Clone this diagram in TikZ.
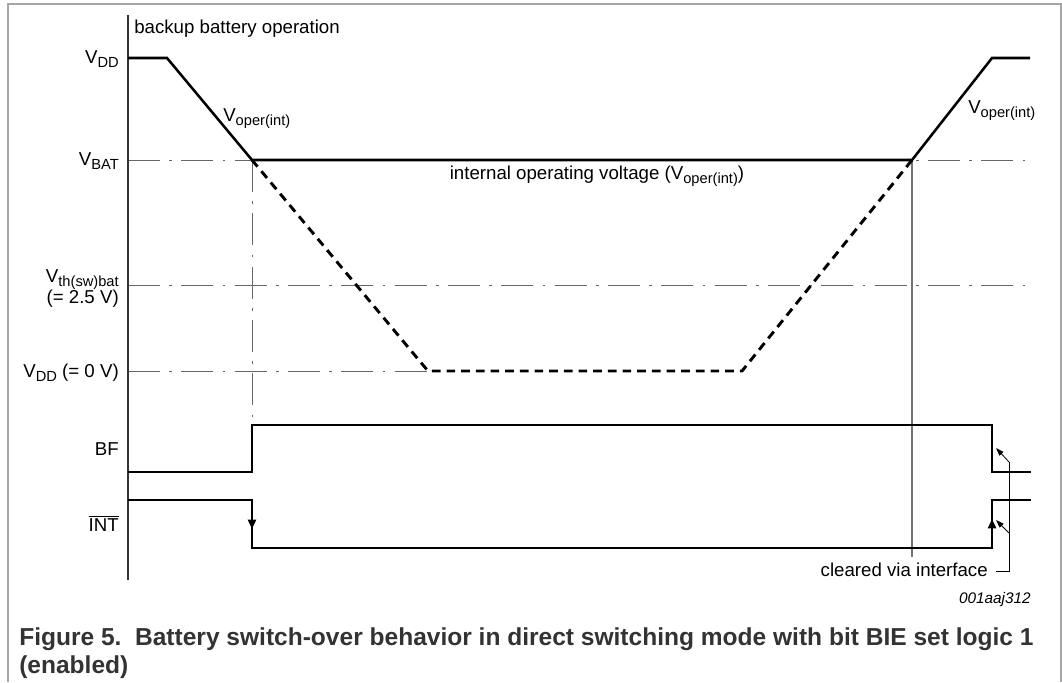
\documentclass[tikz,border=0pt]{standalone}
\usepackage{fontspec}
\setmainfont{Liberation Sans}
\usetikzlibrary{arrows.meta}

\newcommand{\lowsub}[1]{\raisebox{-3pt}{\fontsize{11}{13}\selectfont #1}}

\tikzset{
  lbl/.style={font=\fontsize{14}{17}\selectfont, inner sep=0pt},
  sig/.style={line width=1.9pt, line join=miter},
  dashdot/.style={black!60, line width=0.6pt, dash pattern=on 24pt off 7pt on 2pt off 7pt},
  marker/.style={black!55, line width=0.8pt},
  note/.style={line width=0.6pt},
}

\begin{document}
\begin{tikzpicture}[x=0.75pt,y=-0.75pt]
\useasboundingbox (0,0) rectangle (1062,682);
\draw[black!35, line width=1pt] (8,682) -- (8,4) -- (1061,4) -- (1061,682);

% reference levels
\draw[dashdot] (128,160) -- (1030,160);
\draw[dashdot] (128,285) -- (1030,285);
\draw[dashdot] (128,371) -- (428,371);
\draw[dashdot] (252,160) -- (252,418);
\draw[marker] (912,160) -- (912,557);

% time axis
\draw[black!80, line width=0.9pt] (128,15) -- (128,580);

% supply and internal voltage
\draw[sig] (128,58) -- (167,58) -- (252,160) -- (912,160) -- (992,58) -- (1030,58);
\draw[sig, line width=2.2pt, dash pattern=on 6.5pt off 4.5pt] (252,160) -- (428,371) -- (742,371) -- (912,160);

% BF and INT
\draw[sig] (128,472) -- (252,472) -- (252,425) -- (992,425) -- (992,472) -- (1031,472);
\draw[sig] (128,500) -- (252,500) -- (252,548) -- (992,548) -- (992,500) -- (1031,500);
\draw[line width=1.9pt, -{Triangle[length=7pt,width=6pt]}] (252,505) -- (252,529);
\draw[line width=1.9pt, -{Triangle[length=7pt,width=6pt]}] (992,543) -- (992,519);

% labels
\node[lbl, anchor=base west] (title) at (134,33) {backup battery operation};
\node[lbl, anchor=base east] (vdd) at (119,63) {V\lowsub{DD}};
\node[lbl, anchor=base east] (vbat) at (119,165) {V\lowsub{BAT}};
\node[lbl, anchor=base east] (vth) at (119,282) {V\lowsub{th(sw)bat}};
\node[lbl, anchor=base east] (vthval) at (119,303) {(= 2.5 V)};
\node[lbl, anchor=base east] (vdd0) at (119,377) {V\lowsub{DD} (= 0 V)};
\node[lbl, anchor=base east] (bf) at (119,455) {BF};
\node[lbl, anchor=base east] (int) at (119,531) {$\overline{\hbox{INT}}$};
\node[lbl, anchor=base west] (voperl) at (223,121) {V\lowsub{oper(int)}};
\node[lbl, anchor=base west] (voperr) at (968,113) {V\lowsub{oper(int)}};
\node[lbl, anchor=base] (intop) at (597,179) {internal operating voltage (V\lowsub{oper(int)})};

% cleared via interface
\node[lbl, anchor=base east] (clr) at (988,576) {cleared via interface};
\coordinate (c0) at (996,571);
\coordinate (c1) at (1009,571);
\coordinate (c2) at (1009,462);
\coordinate (c3) at (1009,533);
\coordinate (t1) at (996,448);
\coordinate (t2) at (996,520);
\draw[note] (c0) -- (c1) -- (c2);
\draw[note, -{Triangle[length=6pt,width=4pt]}] (c2) -- (t1);
\draw[note, -{Triangle[length=6pt,width=4pt]}] (c3) -- (t2);

\node[font=\fontsize{11.5}{14}\selectfont\itshape, inner sep=0pt, anchor=base east] (code) at (1031,603) {001aaj312};

% caption
\node[font=\fontsize{18.4}{22}\selectfont\bfseries, text=black!80, inner sep=0pt, anchor=base west] (cap1) at (19,645) {Figure 5.\ \ Battery switch-over behavior in direct switching mode with bit BIE set logic 1};
\node[font=\fontsize{18.4}{22}\selectfont\bfseries, text=black!80, inner sep=0pt, anchor=base west] (cap2) at (19,673) {(enabled)};
\end{tikzpicture}
\end{document}
